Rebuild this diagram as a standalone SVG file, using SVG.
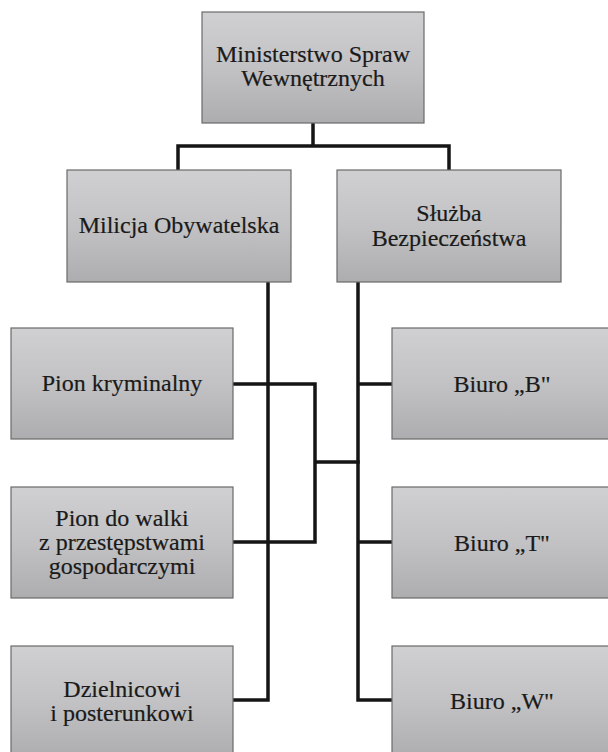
<svg xmlns="http://www.w3.org/2000/svg" width="608" height="752" viewBox="0 0 608 752">
  <defs>
    <linearGradient id="boxFill" x1="0" y1="0" x2="0" y2="1">
      <stop offset="0" stop-color="#d0d0d2"/>
      <stop offset="0.5" stop-color="#c2c2c4"/>
      <stop offset="1" stop-color="#adadaf"/>
    </linearGradient>
  </defs>
  <style>
    .box { fill: url(#boxFill); stroke: #6a6a6a; stroke-width: 1.2; }
    .lbl { font-family: "Liberation Serif", "Times New Roman", serif; font-size: 24px; fill: #1a1a1a; stroke: #1a1a1a; stroke-width: 0.2; text-anchor: middle; }
    .conn { fill: none; stroke: #151515; stroke-width: 3.5; stroke-linejoin: miter; stroke-linecap: square; }
  </style>

  <g id="connectors">
    <path class="conn" d="M313 123 V146 M178 146 H449 M178 146 V169 M449 146 V169"/>
    <path class="conn" d="M268 282 V700 H234"/>
    <path class="conn" d="M358 282 V700 H391 M358 384 H391 M358 542 H391"/>
    <path class="conn" d="M234 384 H315 V542 H234 M315 462 H358"/>
  </g>

  <g id="node-msw">
    <rect class="box" x="202" y="12" width="222" height="111"/>
    <text class="lbl" x="313" y="62">Ministerstwo Spraw</text>
    <text class="lbl" x="313" y="86">Wewnętrznych</text>
  </g>

  <g id="node-mo">
    <rect class="box" x="67" y="170" width="224" height="112"/>
    <text class="lbl" x="179" y="233">Milicja Obywatelska</text>
  </g>

  <g id="node-sb">
    <rect class="box" x="337" y="170" width="224" height="112"/>
    <text class="lbl" x="449" y="221">Służba</text>
    <text class="lbl" x="449" y="246">Bezpieczeństwa</text>
  </g>

  <g id="node-pion-kryminalny">
    <rect class="box" x="11" y="328" width="222" height="111"/>
    <text class="lbl" x="122" y="391">Pion kryminalny</text>
  </g>

  <g id="node-pion-gospodarczy">
    <rect class="box" x="11" y="487" width="222" height="111"/>
    <text class="lbl" x="122" y="526">Pion do walki</text>
    <text class="lbl" x="122" y="550">z przestępstwami</text>
    <text class="lbl" x="122" y="574">gospodarczymi</text>
  </g>

  <g id="node-dzielnicowi">
    <rect class="box" x="11" y="646" width="222" height="112"/>
    <text class="lbl" x="122" y="697">Dzielnicowi</text>
    <text class="lbl" x="122" y="721">i posterunkowi</text>
  </g>

  <g id="node-biuro-b">
    <rect class="box" x="392" y="328" width="222" height="111"/>
    <text class="lbl" x="502" y="392">Biuro „B"</text>
  </g>

  <g id="node-biuro-t">
    <rect class="box" x="392" y="487" width="222" height="111"/>
    <text class="lbl" x="502" y="551">Biuro „T"</text>
  </g>

  <g id="node-biuro-w">
    <rect class="box" x="392" y="646" width="222" height="112"/>
    <text class="lbl" x="502" y="709">Biuro „W"</text>
  </g>
</svg>
